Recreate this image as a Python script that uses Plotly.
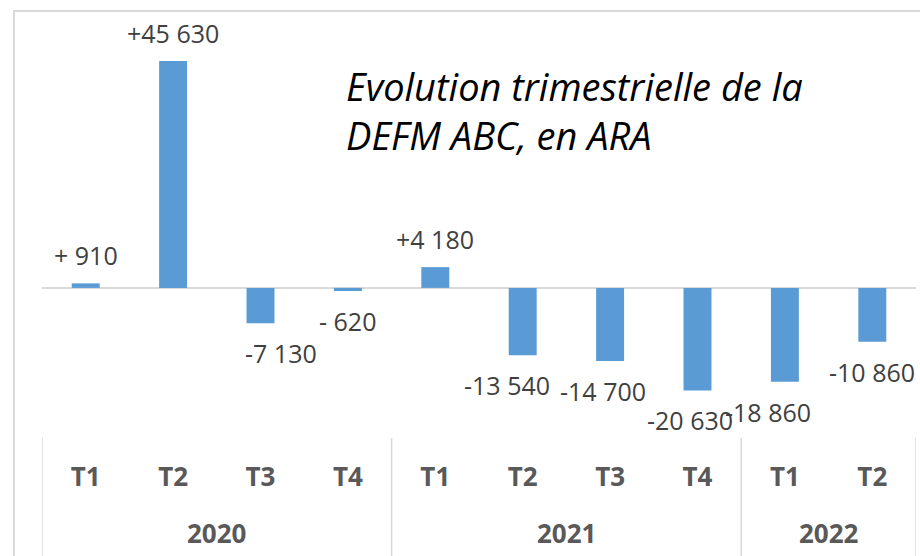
import plotly.graph_objects as go

years = ["2020", "2020", "2020", "2020", "2021", "2021", "2021", "2021", "2022", "2022"]
quarters = ["T1", "T2", "T3", "T4", "T1", "T2", "T3", "T4", "T1", "T2"]
values = [910, 45630, -7130, -620, 4180, -13540, -14700, -20630, -18860, -10860]
labels = ["+ 910", "+45 630", "-7 130", "- 620", "+4 180", "-13 540", "-14 700", "-20 630", "-18 860", "-10 860"]
title_text = "Evolution trimestrielle de la<br>DEFM ABC, en ARA"

# style: horizontal nudges of the data labels (px), as placed in the original
label_nudge = [0, 0, 20, 0, 0, -16, -7, -8, -17, 0]

W, H = 920, 556
L, R, T, B = 42, 4, 20, 118
pw, ph = W - L - R, H - T - B

def px(x):
    return (x - L) / pw

def py(y):
    return (H - B - y) / ph

cats = [f"{y} {q}" for y, q in zip(years, quarters)]

fig = go.Figure()
fig.add_trace(go.Bar(
    x=cats, y=values,
    marker=dict(color="#5B9BD5", line=dict(width=0)),
    width=0.32, hoverinfo="skip",
))

# data labels
for c, v, t, dx in zip(cats, values, labels, label_nudge):
    fig.add_annotation(x=c, y=v, text=t, showarrow=False, xanchor="center", yanchor="middle",
                       yshift=28 if v > 0 else -30, xshift=dx,
                       font=dict(family="Open Sans", size=25, color="#404040"))

# year labels & group dividers (derived from the year list)
groups = []
for i, y in enumerate(years):
    if not groups or groups[-1][0] != y:
        groups.append([y, i, i])
    else:
        groups[-1][2] = i
bounds = [g[1] - 0.5 for g in groups] + [groups[-1][2] + 0.5]
for y, i0, i1 in groups:
    fig.add_annotation(x=(i0 + i1) / 2, y=py(533), xref="x", yref="paper", text="<b>" + y + "</b>",
                       showarrow=False, xanchor="center", yanchor="middle",
                       font=dict(family="Open Sans", size=26, color="#595959"))
for b in bounds:
    fig.add_shape(type="line", xref="x", yref="paper", x0=b, x1=b, y0=py(438), y1=py(560),
                  line=dict(color="#D9D9D9", width=1.5))

# chart frame (left & top edges visible)
fig.add_shape(type="line", xref="paper", yref="paper", x0=px(13), x1=px(922), y0=py(11), y1=py(11),
              line=dict(color="#D9D9D9", width=2))
fig.add_shape(type="line", xref="paper", yref="paper", x0=px(14), x1=px(14), y0=py(10), y1=py(560),
              line=dict(color="#D9D9D9", width=2))

fig.add_annotation(text="<i>" + title_text + "</i>", xref="paper", yref="paper",
                   x=px(344), y=py(58), xanchor="left", yanchor="top", align="left",
                   showarrow=False, font=dict(family="Open Sans", size=38, color="#000000"))

fig.update_layout(
    width=W, height=H, margin=dict(l=L, r=R, t=T, b=B),
    paper_bgcolor="white", plot_bgcolor="white", showlegend=False,
    xaxis=dict(type="category", range=[-0.5, len(cats) - 0.5], showgrid=False, showline=False,
               ticks="", tickmode="array", tickvals=cats, ticktext=["<b>" + q + "</b>" for q in quarters],
               ticklabelstandoff=21,
               tickfont=dict(family="Open Sans", size=26, color="#595959")),
    yaxis=dict(range=[-30200, 53900], showgrid=False, showticklabels=False, ticks="",
               zeroline=True, zerolinecolor="#D9D9D9", zerolinewidth=1.5, showline=False),
)
fig.write_html("out.html", config={"displayModeBar": False},
               post_script="document.body.style.margin='0';")
